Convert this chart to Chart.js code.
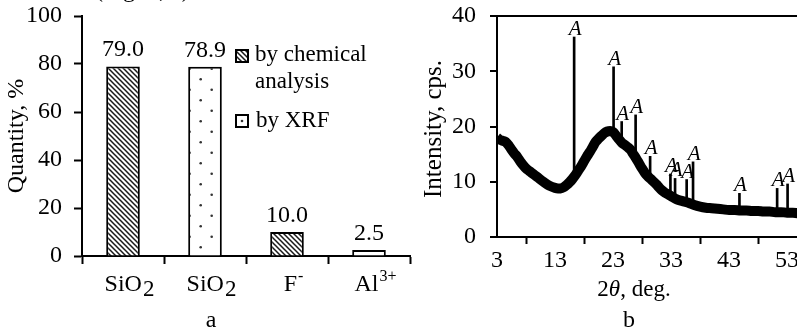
<!DOCTYPE html>
<html>
<head>
<meta charset="utf-8">
<script src="https://cdn.jsdelivr.net/npm/chart.js@4.4.0/dist/chart.umd.min.js"></script>
<style>
  html, body { margin: 0; padding: 0; background: #fff; overflow: hidden; width: 797px; height: 330px; }
  #wrap { position: relative; width: 797px; height: 330px; overflow: hidden; }
  #boxA { position: absolute; left: 0; top: 0; }
  #boxB { position: absolute; left: 400px; top: 0; }
</style>
</head>
<body>
<div id="wrap">
  <div id="boxA"><canvas id="chartA" width="414" height="330"></canvas></div>
  <div id="boxB"><canvas id="chartB" width="470" height="330"></canvas></div>
</div>
<script>
// panel a: composition
const categories = ['SiO_2', 'SiO_2', 'F^-', 'Al^3+'];
const chemical = [79.0, null, 10.0, null];
const xrf = [null, 78.9, null, 2.5];
const quantityTicks = [0, 20, 40, 60, 80, 100];

// panel b: XRD pattern (background band)
const xrdAngle = [3.0, 3.5, 4.0, 4.5, 5.0, 5.5, 6.0, 6.5, 7.0, 7.5, 8.0, 8.5, 9.0, 9.5, 10.0, 11.0, 12.0, 13.0, 13.5, 14.0,
  14.5, 15.0, 15.5, 16.0, 16.5, 17.0, 17.5, 18.0, 18.5, 19.0, 19.5, 20.0, 20.5, 21.0, 21.5, 22.0, 22.5, 23.0, 23.5, 24.0,
  24.5, 25.0, 25.5, 26.0, 26.5, 27.0, 27.5, 28.0, 28.5, 29.0, 29.5, 30.0, 30.5, 31.0, 31.5, 32.0, 32.5, 33.0, 34.0, 35.0,
  36.0, 37.0, 38.0, 39.0, 40.0, 41.0, 42.0, 43.0, 44.0, 45.0, 46.0, 47.0, 48.0, 49.0, 50.0, 51.0, 52.0, 53.0, 54.0, 55.0, 56.0];
const xrdIntensity = [18.0, 17.6, 17.4, 17.2, 16.6, 15.8, 15.1, 14.5, 13.7, 13.0, 12.4, 12.0, 11.6, 11.2, 10.8, 10.0, 9.3, 8.9, 8.8, 8.8,
  9.0, 9.4, 9.9, 10.5, 11.2, 12.0, 12.8, 13.7, 14.6, 15.4, 16.3, 17.2, 17.8, 18.3, 18.8, 19.1, 19.2, 19.0, 18.4, 17.7,
  17.1, 16.7, 16.3, 15.8, 15.0, 14.2, 13.3, 12.4, 11.6, 11.0, 10.5, 10.0, 9.5, 8.9, 8.4, 8.0, 7.7, 7.4, 6.8, 6.5,
  6.2, 5.8, 5.5, 5.3, 5.2, 5.1, 5.0, 4.9, 4.9, 4.8, 4.8, 4.7, 4.7, 4.6, 4.6, 4.5, 4.5, 4.4, 4.4, 4.3, 4.3];
const peakAngle = [16.3, 23.1, 24.5, 26.9, 29.4, 32.9, 33.7, 35.7, 36.8, 44.8, 51.3, 53.1];
const peakBase = [10.7, 18.8, 17.1, 14.3, 10.6, 7.4, 6.9, 6.3, 6.0, 4.8, 4.5, 4.4];
const peakTop = [36.2, 30.8, 20.9, 22.1, 14.6, 11.4, 10.6, 10.4, 13.6, 7.9, 8.8, 9.6];
const angleTicks = [3, 13, 23, 33, 43, 53];
const intensityTicks = [0, 10, 20, 30, 40];

const SERIF = '"Liberation Serif", "Times New Roman", serif';
Chart.defaults.font.family = SERIF;
Chart.defaults.font.size = 24;
Chart.defaults.color = '#000';

function hatchPattern() {
  const c = document.createElement('canvas');
  c.width = 5; c.height = 5;
  const g = c.getContext('2d');
  g.fillStyle = '#fff';
  g.fillRect(0, 0, 5, 5);
  g.strokeStyle = '#1a1a1a';
  g.lineWidth = 1.5;
  g.beginPath();
  g.moveTo(-1, -1); g.lineTo(6, 6);
  g.moveTo(-1, 4); g.lineTo(1, 6);
  g.moveTo(4, -1); g.lineTo(6, 1);
  g.stroke();
  return g.createPattern(c, 'repeat');
}

function dotPattern() {
  const c = document.createElement('canvas');
  c.width = 22; c.height = 21;
  const g = c.getContext('2d');
  g.fillStyle = '#fff';
  g.fillRect(0, 0, 22, 21);
  g.fillStyle = '#333';
  [[2.7, 16.3], [13.7, 5.7]].forEach(p => {
    g.beginPath(); g.arc(p[0], p[1], 1.3, 0, Math.PI * 2); g.fill();
  });
  return g.createPattern(c, 'repeat');
}

const hatch = hatchPattern();
const dots = dotPattern();

// no automatic label overflow padding: chart areas are placed by hand
function noPad(s) {
  s.paddingTop = 0; s.paddingBottom = 0; s.paddingLeft = 0; s.paddingRight = 0;
}

// label like 'SiO_2' or 'Al^3+' with sub/superscript
function drawRich(ctx, s, cx, baseline) {
  const m = s.match(/^([^_^]+)([_^])(.+)$/);
  const main = m ? m[1] : s;
  const small = m ? m[3] : '';
  const isSub = m && m[2] === '_';
  const bigFont = '24px ' + SERIF;
  const smallFont = (isSub ? '23px ' : '16px ') + SERIF;
  ctx.font = bigFont;
  const w1 = ctx.measureText(main).width;
  ctx.font = smallFont;
  const w2 = small ? ctx.measureText(small).width : 0;
  const x0 = cx - (w1 + w2) / 2;
  ctx.textAlign = 'left';
  ctx.textBaseline = 'alphabetic';
  ctx.font = bigFont;
  ctx.fillText(main, x0, baseline);
  if (small) {
    ctx.font = smallFont;
    ctx.fillText(small, x0 + w1 + 1, isSub ? baseline + 5 : baseline - 10);
  }
}

const panelA = {
  id: 'panelA',
  afterDraw(chart) {
    const ctx = chart.ctx;
    const xs = chart.scales.x;
    ctx.save();
    ctx.fillStyle = '#000';

    // category labels
    categories.forEach((c, i) => drawRich(ctx, c, xs.getPixelForValue(i) + 6, 291));

    // value labels above bars
    ctx.font = '24px ' + SERIF;
    ctx.textAlign = 'center';
    ctx.textBaseline = 'alphabetic';
    chart.data.datasets.forEach((ds, di) => {
      chart.getDatasetMeta(di).data.forEach((bar, i) => {
        if (ds.data[i] == null) return;
        ctx.fillText(ds.data[i].toFixed(1), bar.x, bar.y - 10);
      });
    });

    // legend
    ctx.lineWidth = 2;
    ctx.strokeStyle = '#000';
    ctx.fillStyle = hatch;
    ctx.fillRect(236, 50, 12, 12);
    ctx.strokeRect(236, 50, 12, 12);
    ctx.fillStyle = '#fff';
    ctx.fillRect(236, 115, 12, 12);
    ctx.strokeRect(236, 115, 12, 12);
    ctx.fillStyle = '#333';
    ctx.beginPath(); ctx.arc(242, 121, 1.3, 0, Math.PI * 2); ctx.fill();
    ctx.fillStyle = '#000';
    ctx.font = '23px ' + SERIF;
    ctx.textAlign = 'left';
    ctx.fillText('by chemical', 255, 61);
    ctx.fillText('analysis', 255, 88);
    ctx.fillText('by XRF', 256, 127);

    // axis title
    ctx.font = '24px ' + SERIF;
    ctx.save();
    ctx.translate(17, 136);
    ctx.rotate(-Math.PI / 2);
    ctx.textAlign = 'center';
    ctx.textBaseline = 'middle';
    ctx.fillText('Quantity, %', 0, 0);
    ctx.restore();

    // panel letter and the cut caption above
    ctx.textAlign = 'center';
    ctx.fillText('a', 211, 327);
    ctx.textAlign = 'left';
    ctx.fillText('(Fig. 3, a)', 95, -3);
    ctx.restore();
  }
};

const panelB = {
  id: 'panelB',
  afterDraw(chart) {
    const ctx = chart.ctx;
    const { x, y } = chart.scales;
    ctx.save();
    ctx.fillStyle = '#000';

    // phase marks
    ctx.font = 'italic 21px ' + SERIF;
    ctx.textAlign = 'center';
    ctx.textBaseline = 'bottom';
    peakAngle.forEach((a, i) => {
      ctx.fillText('A', x.getPixelForValue(a) + 1, y.getPixelForValue(peakTop[i]) + 3);
    });

    // y title
    ctx.font = '25px ' + SERIF;
    ctx.save();
    ctx.translate(34, 129);
    ctx.rotate(-Math.PI / 2);
    ctx.textAlign = 'center';
    ctx.textBaseline = 'middle';
    ctx.fillText('Intensity, cps.', 0, 0);
    ctx.restore();

    // x title: 2θ, deg.
    ctx.textBaseline = 'alphabetic';
    ctx.textAlign = 'left';
    const parts = [['2', '23px '], ['\u03B8', 'italic 23px '], [', deg.', '23px ']];
    let total = 0;
    parts.forEach(p => { ctx.font = p[1] + SERIF; total += ctx.measureText(p[0]).width; });
    let px = 234 - total / 2;
    parts.forEach(p => {
      ctx.font = p[1] + SERIF;
      ctx.fillText(p[0], px, 296);
      px += ctx.measureText(p[0]).width;
    });

    ctx.font = '24px ' + SERIF;
    ctx.textAlign = 'center';
    ctx.fillText('b', 229, 327);
    ctx.restore();
  }
};

new Chart(document.getElementById('chartA'), {
  type: 'bar',
  data: {
    labels: categories,
    datasets: [
      { label: 'by chemical analysis', data: chemical, backgroundColor: hatch, borderColor: '#000', borderWidth: 2 },
      { label: 'by XRF', data: xrf, backgroundColor: dots, borderColor: '#000', borderWidth: 2 }
    ]
  },
  options: {
    responsive: false,
    animation: false,
    skipNull: true,
    categoryPercentage: 1,
    barPercentage: 0.41,
    layout: { padding: { top: 16, right: 4, left: 0, bottom: 0 } },
    plugins: { legend: { display: false }, tooltip: { enabled: false } },
    scales: {
      x: {
        grid: { color: 'transparent', tickColor: '#000', tickWidth: 2, tickLength: 8, offset: true },
        border: { color: '#000', width: 2 },
        ticks: { display: false },
        afterFit: s => { s.height = 74; noPad(s); }
      },
      y: {
        min: 0, max: 100,
        afterBuildTicks: s => { s.ticks = quantityTicks.map(v => ({ value: v })); },
        grid: { color: 'transparent', tickColor: '#000', tickWidth: 2, tickLength: 8 },
        border: { color: '#000', width: 2 },
        ticks: { padding: 12 },
        afterFit: s => { s.width = 82; noPad(s); }
      }
    }
  },
  plugins: [panelA]
});

new Chart(document.getElementById('chartB'), {
  type: 'line',
  data: {
    datasets: [
      {
        type: 'bar',
        data: peakAngle.map((a, i) => ({ x: a, y: [peakBase[i], peakTop[i]] })),
        backgroundColor: '#000',
        borderWidth: 0,
        barThickness: 2,
        grouped: false
      },
      {
        type: 'line',
        data: xrdAngle.map((a, i) => ({ x: a, y: xrdIntensity[i] })),
        borderColor: '#000',
        borderWidth: 10,
        pointRadius: 0,
        cubicInterpolationMode: 'monotone'
      }
    ]
  },
  options: {
    responsive: false,
    animation: false,
    layout: { padding: { top: 16, right: 25, left: 0, bottom: 0 } },
    plugins: { legend: { display: false }, tooltip: { enabled: false } },
    scales: {
      x: {
        type: 'linear', min: 3, max: 63, offset: false,
        afterBuildTicks: s => { s.ticks = angleTicks.map(v => ({ value: v })); },
        grid: { color: 'transparent', tickColor: '#000', tickWidth: 2, tickLength: 7 },
        border: { color: '#000', width: 2 },
        ticks: { padding: 2 },
        afterFit: s => { s.height = 93; noPad(s); }
      },
      y: {
        min: 0, max: 40,
        afterBuildTicks: s => { s.ticks = intensityTicks.map(v => ({ value: v })); },
        grid: {
          color: c => (c.tick && c.tick.value === 40 ? '#000' : 'transparent'),
          lineWidth: 2, tickColor: '#000', tickWidth: 2, tickLength: 7
        },
        border: { color: '#000', width: 2 },
        ticks: { padding: 14 },
        afterFit: s => { s.width = 97; noPad(s); }
      }
    }
  },
  plugins: [panelB]
});
</script>
</body>
</html>
